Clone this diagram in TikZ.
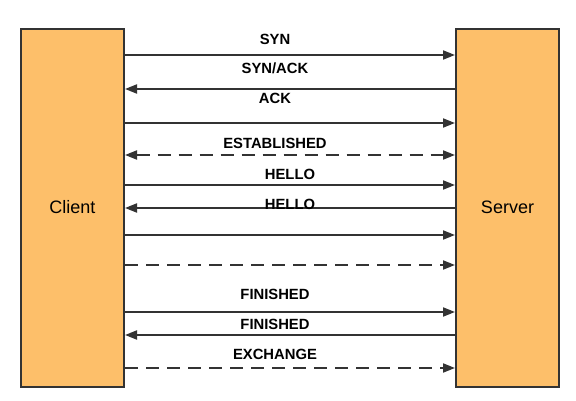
\documentclass[tikz,border=0pt]{standalone}
\usepackage{fontspec}
\setmainfont{Liberation Sans}
\usetikzlibrary{arrows.meta}
\definecolor{boxfill}{RGB}{253,191,106}
\definecolor{linegray}{RGB}{51,51,51}
\tikzset{
  party/.style={draw=linegray, line width=2pt, fill=boxfill, inner sep=0pt,
    minimum width=103pt, minimum height=358pt, font=\fontsize{18}{21}\selectfont},
  tip/.tip={Triangle[length=12pt, width=9pt]},
  msg/.style={draw=linegray, line width=2pt, -tip},
  reply/.style={draw=linegray, line width=2pt, tip-},
  both/.style={draw=linegray, line width=2pt, tip-tip, dash pattern=on 13pt off 8pt},
  async/.style={msg, dash pattern=on 13pt off 8pt},
  lbl/.style={anchor=base, inner sep=0pt, font=\bfseries\fontsize{14.8}{17}\selectfont}
}
\begin{document}
\begin{tikzpicture}[x=1pt, y=-1pt]
  \useasboundingbox (0, 0) rectangle (576, 401);
  \node[party] (client) at (72.5, 208) {\raisebox{2.5pt}{Client}};
  \node[party] (server) at (507.5, 208) {\raisebox{2.5pt}{Server}};
  \foreach \y [count=\i] in {55, 89, 123, 155, 185, 208, 235, 265, 312, 335, 368} {
    \coordinate (c\i) at (client.east |- 0, \y);
    \coordinate (s\i) at (server.west |- 0, \y);
  }
  \draw[msg] (c1) -- (s1);
  \draw[reply] (c2) -- (s2);
  \draw[msg] (c3) -- (s3);
  \draw[both] (c4) -- (s4);
  \draw[msg] (c5) -- (s5);
  \draw[reply] (c6) -- (s6);
  \draw[msg] (c7) -- (s7);
  \draw[async] (c8) -- (s8);
  \draw[msg] (c9) -- (s9);
  \draw[reply] (c10) -- (s10);
  \draw[async] (c11) -- (s11);
  \node[lbl] (syn) at (275, 45) {SYN};
  \node[lbl] (synack) at (275, 74) {SYN/ACK};
  \node[lbl] (ack) at (275, 104) {ACK};
  \node[lbl] (established) at (275, 149) {ESTABLISHED};
  \node[lbl] (hello) at (290, 179) {HELLO};
  \node[lbl] (hello2) at (290, 209) {HELLO};
  \node[lbl] (finished) at (275, 299) {FINISHED};
  \node[lbl] (finished2) at (275, 329) {FINISHED};
  \node[lbl] (exchange) at (275, 359) {EXCHANGE};
\end{tikzpicture}
\end{document}
